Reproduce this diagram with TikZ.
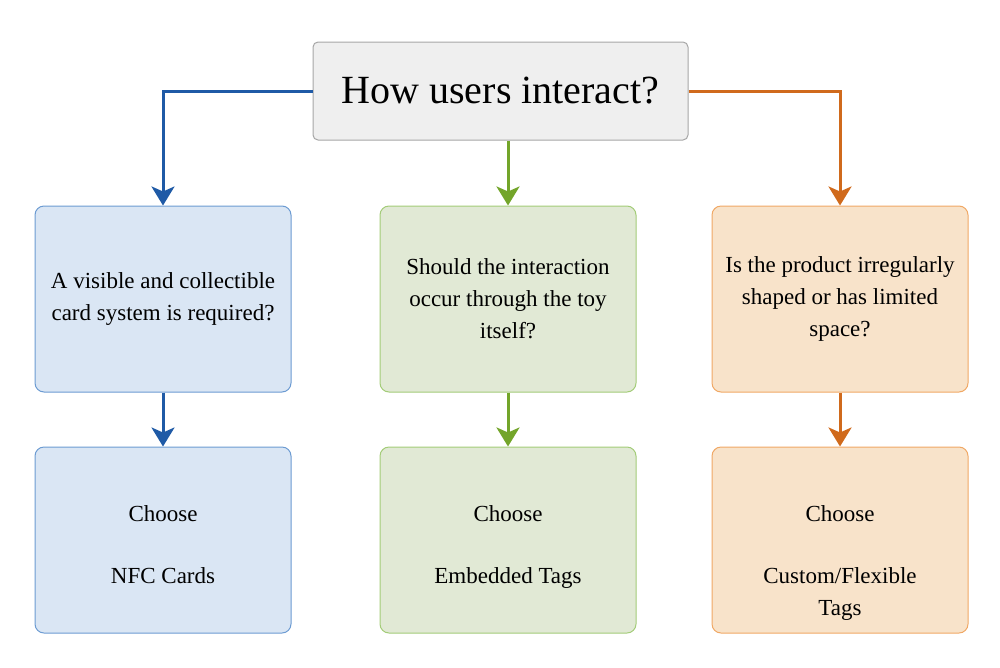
\documentclass[tikz,border=0pt]{standalone}
\usepackage{fontspec}
\setmainfont{Liberation Serif}
\usetikzlibrary{positioning}
\usetikzlibrary{arrows.meta}

\definecolor{topfill}{HTML}{EFEFEF}
\definecolor{topline}{HTML}{A6A6A6}
\definecolor{bluefill}{HTML}{DAE6F4}
\definecolor{blueline}{HTML}{6C9BD2}
\definecolor{bluearrow}{HTML}{1F5AA6}
\definecolor{greenfill}{HTML}{E1E9D5}
\definecolor{greenline}{HTML}{A3CC78}
\definecolor{greenarrow}{HTML}{73A52A}
\definecolor{orangefill}{HTML}{F8E3CA}
\definecolor{orangeline}{HTML}{F0A865}
\definecolor{orangearrow}{HTML}{D06A1C}

\begin{document}
\begin{tikzpicture}[x=1pt, y=1pt, font=\fontsize{23}{32}\selectfont,
    box/.style={draw, line width=1pt, rounded corners=9pt, minimum width=256pt,
        minimum height=186pt, align=center, inner sep=0pt},
    choice/.style={anchor=north, align=center, inner sep=0pt},
    flow/.style={draw=#1, line width=3pt,
        -{Stealth[length=19pt, width=23pt, inset=5pt, fill=#1]}}]

\useasboundingbox (0,0) rectangle (1000,-667);

\node[draw=topline, fill=topfill, line width=1pt, rounded corners=5pt,
    minimum width=375pt, minimum height=98pt, inner sep=0pt,
    font=\fontsize{40}{48}\selectfont] (top) at (500.5,-91) {How users interact?};

\node[box, draw=blueline, fill=bluefill] (q1) at (163,-299)
    {A visible and collectible\\card system is required?};
\node[box, draw=greenline, fill=greenfill] (q2) at (508,-299)
    {Should the interaction\\occur through the toy\\itself?};
\node[box, draw=orangeline, fill=orangefill] (q3) at (840,-299)
    {Is the product irregularly\\shaped or has limited\\space?};

\node[box, draw=blueline, fill=bluefill, below=54pt of q1] (c1) {};
\node[box, draw=greenline, fill=greenfill, below=54pt of q2] (c2) {};
\node[box, draw=orangeline, fill=orangefill, below=54pt of q3] (c3) {};

\node[choice] (c1txt) at ([yshift=-59pt]c1.north) {Choose\\[30pt]NFC Cards};
\node[choice] (c2txt) at ([yshift=-59pt]c2.north) {Choose\\[30pt]Embedded Tags};
\node[choice] (c3txt) at ([yshift=-59pt]c3.north) {Choose\\[30pt]Custom/Flexible\\Tags};

\draw[flow=bluearrow] (top.west) -| (q1.north);
\draw[flow=greenarrow] (top.south -| q2.north) -- (q2.north);
\draw[flow=orangearrow] (top.east) -| (q3.north);

\draw[flow=bluearrow] (q1) -- (c1);
\draw[flow=greenarrow] (q2) -- (c2);
\draw[flow=orangearrow] (q3) -- (c3);

\end{tikzpicture}
\end{document}
